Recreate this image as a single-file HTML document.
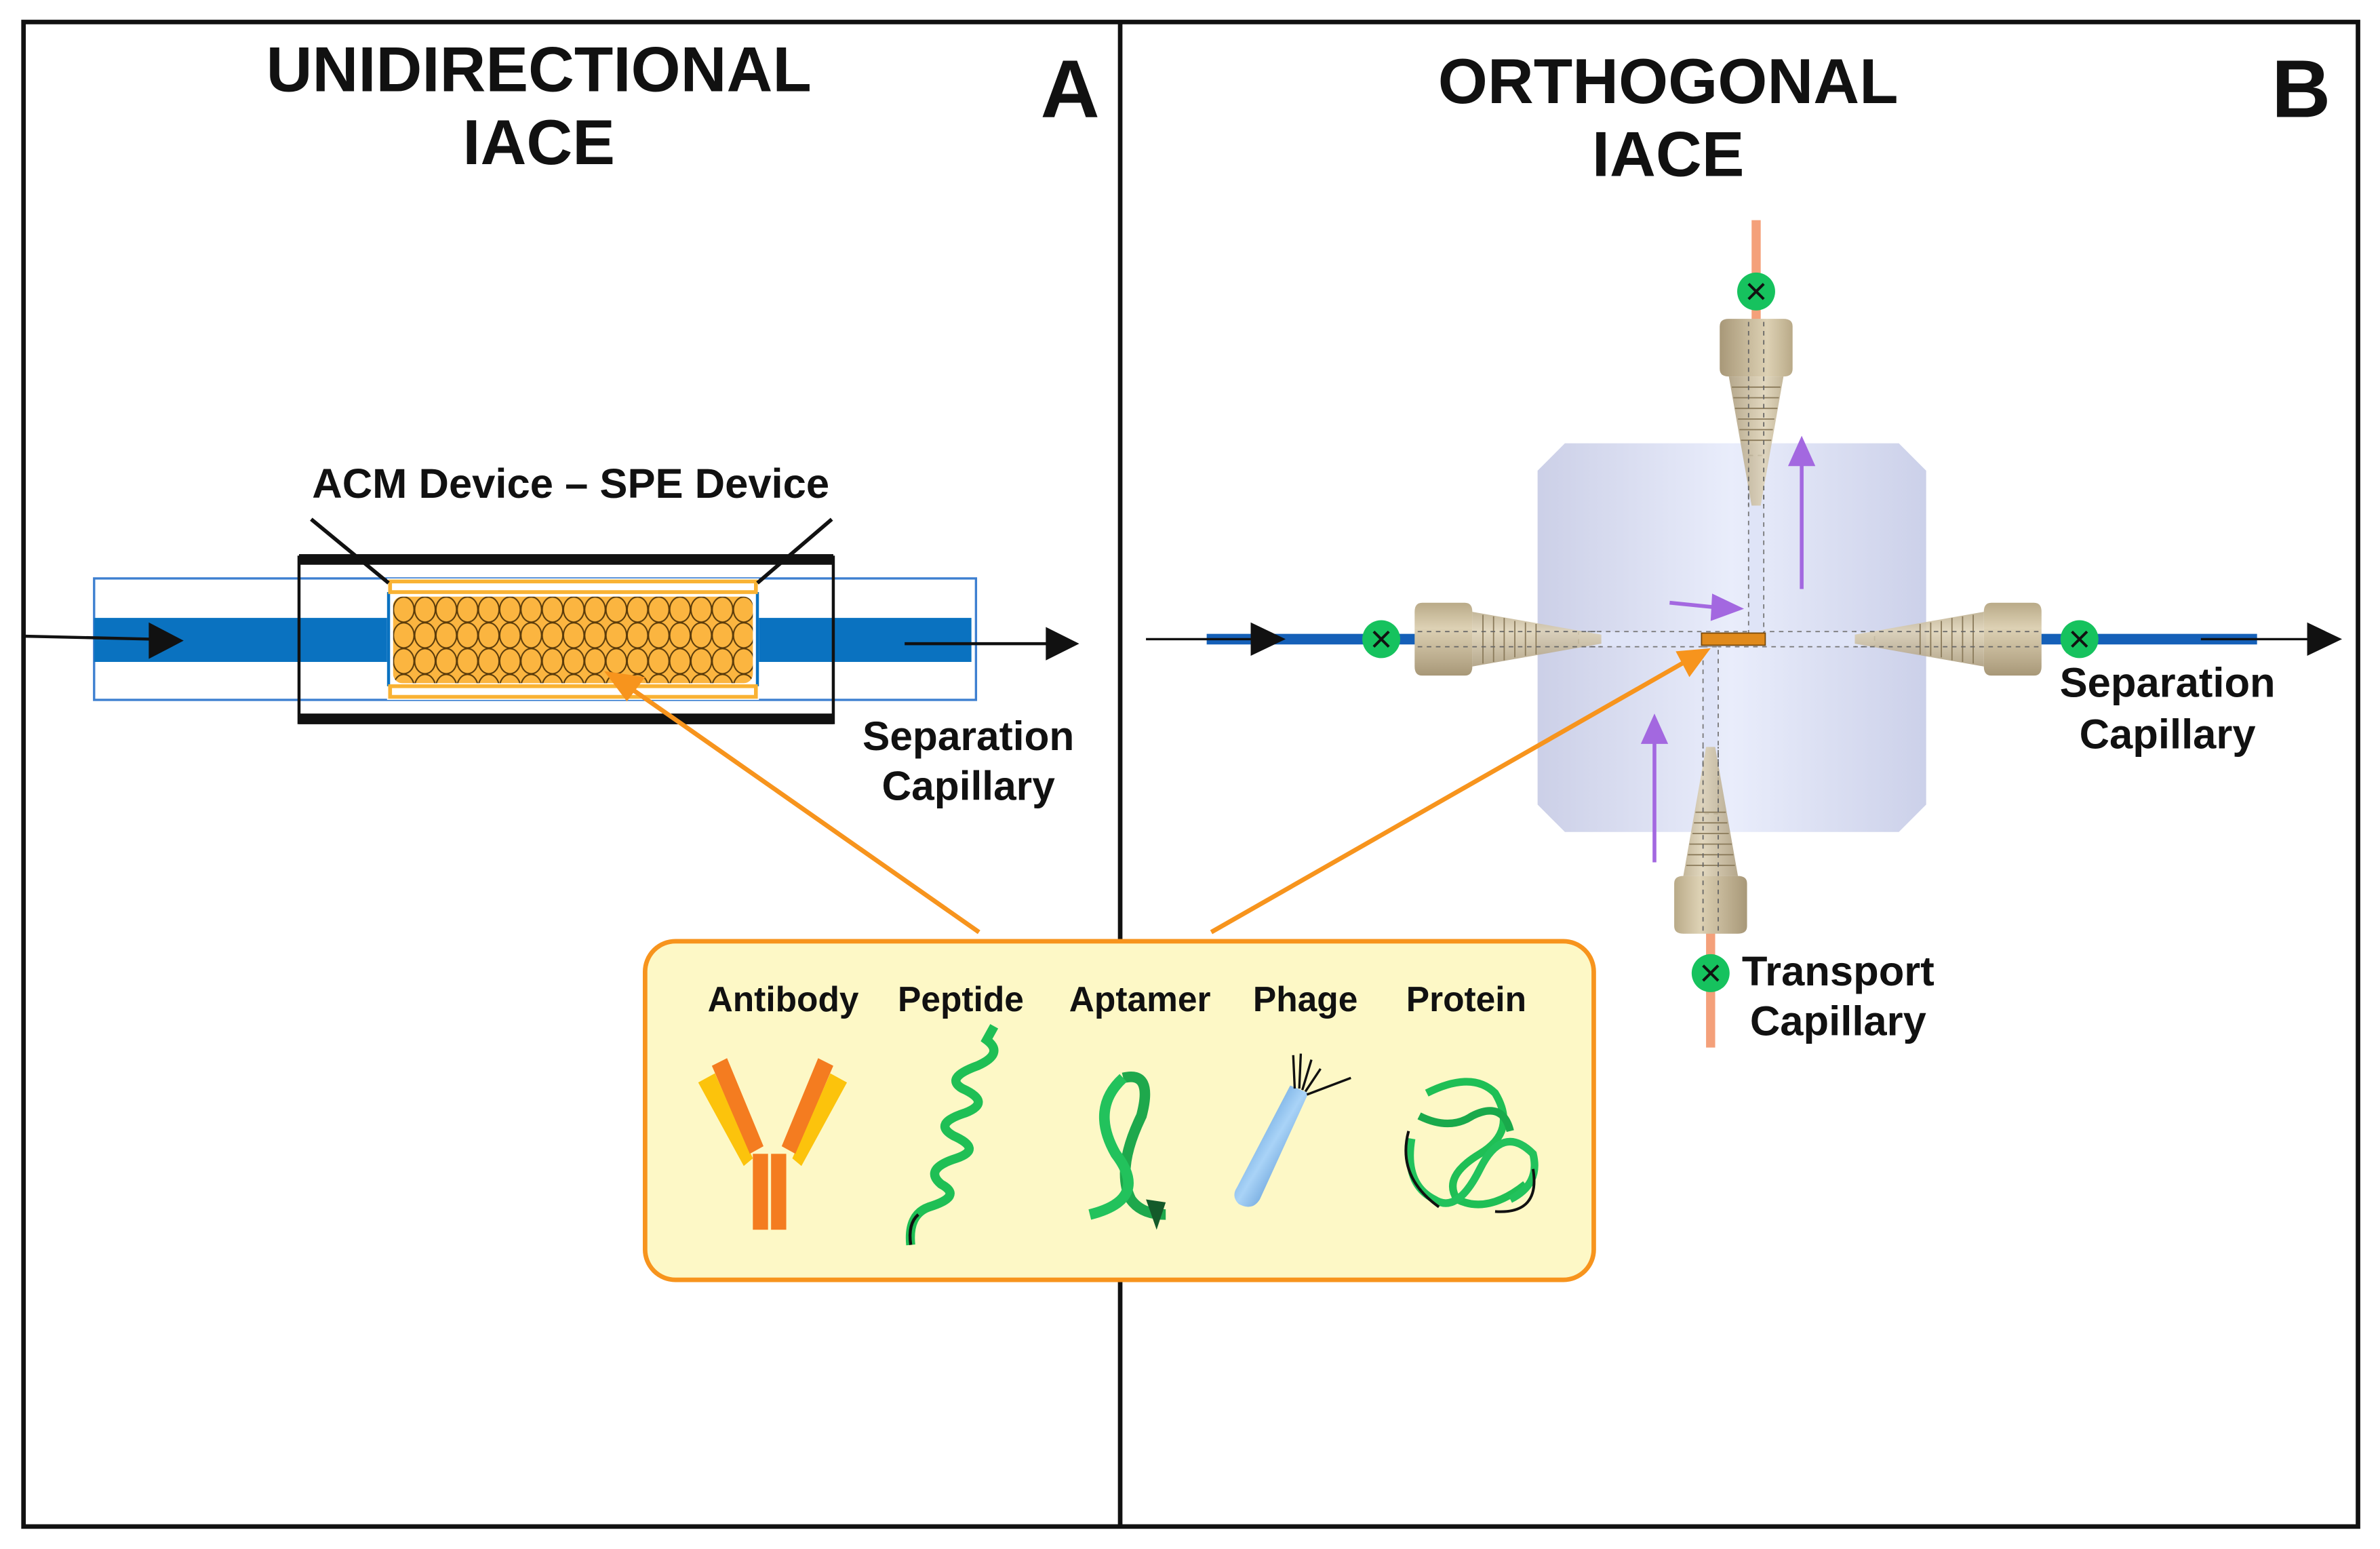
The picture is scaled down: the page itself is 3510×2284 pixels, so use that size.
<!DOCTYPE html>
<html><head><meta charset="utf-8"><style>html,body{margin:0;padding:0;background:#fff}svg{display:block}text{font-family:"Liberation Sans",Arial,sans-serif;font-weight:bold;fill:#111}</style></head>
<body>
<svg width="3510" height="2284" viewBox="0 0 1568 1020.3" preserveAspectRatio="none" xmlns="http://www.w3.org/2000/svg">
<defs>
<pattern id="beads" x="259" y="393" width="14" height="17" patternUnits="userSpaceOnUse">
<rect width="14" height="17" fill="#f5a52a"/>
<ellipse cx="0" cy="0" rx="6.8" ry="8.3" fill="#fbb540" stroke="#5a3b0a" stroke-width="0.9"/>
<ellipse cx="14" cy="0" rx="6.8" ry="8.3" fill="#fbb540" stroke="#5a3b0a" stroke-width="0.9"/>
<ellipse cx="0" cy="17" rx="6.8" ry="8.3" fill="#fbb540" stroke="#5a3b0a" stroke-width="0.9"/>
<ellipse cx="14" cy="17" rx="6.8" ry="8.3" fill="#fbb540" stroke="#5a3b0a" stroke-width="0.9"/>
<ellipse cx="7" cy="8.5" rx="6.8" ry="8.3" fill="#fbb540" stroke="#5a3b0a" stroke-width="0.9"/>
</pattern>
<linearGradient id="blk" x1="0" x2="1" y1="0" y2="0">
<stop offset="0" stop-color="#c9cde6"/><stop offset="0.5" stop-color="#e8ecfb"/><stop offset="1" stop-color="#c9cee8"/></linearGradient>
<linearGradient id="nut" x1="0" x2="0" y1="0" y2="1">
<stop offset="0" stop-color="#b9aa88"/><stop offset="0.35" stop-color="#ddd1b4"/><stop offset="1" stop-color="#a89878"/></linearGradient>
<linearGradient id="phg" x1="0" x2="1" y1="0" y2="1">
<stop offset="0" stop-color="#1f6fc0"/><stop offset="0.5" stop-color="#a9d3f7"/><stop offset="1" stop-color="#1a64b5"/></linearGradient>
<g id="fit">
<path d="M0,-24 h28 q5,0 5,6 v36 q0,6 -5,6 h-28 q-5,0 -5,-6 v-36 q0,-6 5,-6z" fill="url(#nut)"/>
<path d="M33,-18 L118,-3 L118,3 L33,18 z" fill="url(#nut)" opacity="0.85"/>
<g stroke="#8a7a5a" stroke-width="0.8"><line x1="40" y1="-16" x2="40" y2="16"/><line x1="47" y1="-15" x2="47" y2="15"/><line x1="54" y1="-14" x2="54" y2="14"/><line x1="61" y1="-12" x2="61" y2="12"/><line x1="68" y1="-11" x2="68" y2="11"/><line x1="75" y1="-10" x2="75" y2="10"/></g>
<line x1="-3" y1="-5" x2="118" y2="-5" stroke="#666" stroke-width="0.8" stroke-dasharray="3,3"/>
<line x1="-3" y1="5" x2="118" y2="5" stroke="#666" stroke-width="0.8" stroke-dasharray="3,3"/>
</g>
<g id="gx"><circle r="12.5" fill="#16c25e"/><path d="M-5,-5 L5,5 M5,-5 L-5,5" stroke="#111" stroke-width="1.8"/></g>
</defs>

<rect x="15.5" y="14.5" width="1538" height="991" fill="none" stroke="#111" stroke-width="3"/>
<line x1="738" y1="14" x2="738" y2="1005" stroke="#111" stroke-width="3"/>

<text x="355" y="60" font-size="42" text-anchor="middle">UNIDIRECTIONAL</text>
<text x="355" y="108" font-size="42" text-anchor="middle">IACE</text>
<text x="705" y="77" font-size="54" text-anchor="middle">A</text>
<text x="1099" y="68" font-size="42" text-anchor="middle">ORTHOGONAL</text>
<text x="1099" y="116" font-size="42" text-anchor="middle">IACE</text>
<text x="1516" y="77" font-size="54" text-anchor="middle">B</text>

<rect x="62" y="381" width="581" height="80" fill="#fff" stroke="#3d7fd0" stroke-width="1.5"/>
<rect x="62" y="407" width="578" height="29" fill="#0a72c0"/>
<rect x="255" y="381" width="245" height="80" fill="#fff"/>
<line x1="256" y1="390" x2="256" y2="452" stroke="#0a72c0" stroke-width="2"/>
<line x1="499" y1="390" x2="499" y2="452" stroke="#0a72c0" stroke-width="2"/>
<rect x="257" y="383" width="241" height="7" fill="none" stroke="#f9b233" stroke-width="2.5"/>
<rect x="257" y="452" width="241" height="7" fill="none" stroke="#f9b233" stroke-width="2.5"/>
<rect x="259" y="393" width="237" height="57" rx="6" fill="url(#beads)"/>
<rect x="197" y="367" width="352" height="109" fill="none" stroke="#111" stroke-width="2"/>
<rect x="197" y="365" width="352" height="7" fill="#111"/>
<rect x="197" y="470" width="352" height="7" fill="#111"/>
<line x1="205" y1="342" x2="256" y2="384" stroke="#111" stroke-width="2.5"/>
<line x1="548" y1="342" x2="499" y2="384" stroke="#111" stroke-width="2.5"/>
<text x="376" y="328" font-size="27.5" text-anchor="middle">ACM Device – SPE Device</text>
<line x1="15" y1="419" x2="100" y2="421" stroke="#111" stroke-width="2"/>
<path d="M98,410 L121,422 L98,434 z" fill="#111"/>
<line x1="596" y1="424" x2="692" y2="424" stroke="#111" stroke-width="2"/>
<path d="M689,413 L711,424 L689,435 z" fill="#111"/>
<text x="638" y="494" font-size="27" text-anchor="middle">Separation</text>
<text x="638" y="527" font-size="27" text-anchor="middle">Capillary</text>

<line x1="1157" y1="145" x2="1157" y2="230" stroke="#f4a07a" stroke-width="6"/>
<line x1="1127" y1="600" x2="1127" y2="690" stroke="#f4a07a" stroke-width="6"/>
<line x1="795" y1="421" x2="935" y2="421" stroke="#1560b8" stroke-width="7"/>
<line x1="1340" y1="421" x2="1487" y2="421" stroke="#1560b8" stroke-width="7"/>
<line x1="755" y1="421" x2="830" y2="421" stroke="#111" stroke-width="1.5"/>
<path d="M824,410 L847,421 L824,432 z" fill="#111"/>
<line x1="1450" y1="421" x2="1525" y2="421" stroke="#111" stroke-width="1.5"/>
<path d="M1520,410 L1543,421 L1520,432 z" fill="#111"/>
<path d="M1031,292 H1251 L1269,310 V530 L1251,548 H1031 L1013,530 V310 z" fill="url(#blk)" opacity="0.95"/>
<rect x="1040" y="416" width="195" height="10" fill="#dfe4f7" stroke="#777" stroke-width="0.8" stroke-dasharray="3,3"/>
<rect x="1152" y="300" width="10" height="118" fill="#dfe4f7" stroke="#777" stroke-width="0.8" stroke-dasharray="3,3"/>
<rect x="1122" y="426" width="10" height="110" fill="#dfe4f7" stroke="#777" stroke-width="0.8" stroke-dasharray="3,3"/>
<use href="#fit" transform="translate(937,421)"/>
<use href="#fit" transform="translate(1340,421) scale(-1,1)"/>
<use href="#fit" transform="translate(1157,215) rotate(90)"/>
<use href="#fit" transform="translate(1127,610) rotate(-90)"/>
<rect x="1121" y="417" width="42" height="8" fill="#e08a1c" stroke="#7a4a0a" stroke-width="0.8"/>
<g stroke="#a368e0" stroke-width="2.5" fill="#a368e0">
<line x1="1187" y1="388" x2="1187" y2="305"/><path d="M1178,307 L1187,287 L1196,307 z" stroke="none"/>
<line x1="1090" y1="568" x2="1090" y2="488"/><path d="M1081,490 L1090,470 L1099,490 z" stroke="none"/>
<line x1="1100" y1="397" x2="1130" y2="400"/><path d="M1128,391 L1149,401 L1127,409 z" stroke="none"/>
</g>
<use href="#gx" transform="translate(1157,192)"/>
<use href="#gx" transform="translate(910,421)"/>
<use href="#gx" transform="translate(1370,421)"/>
<use href="#gx" transform="translate(1127,641)"/>
<text x="1428" y="459" font-size="27.5" text-anchor="middle">Separation</text>
<text x="1428" y="493" font-size="27.5" text-anchor="middle">Capillary</text>
<text x="1211" y="649" font-size="27.5" text-anchor="middle">Transport</text>
<text x="1211" y="682" font-size="27.5" text-anchor="middle">Capillary</text>

<line x1="645" y1="614" x2="415" y2="453" stroke="#f7941d" stroke-width="3"/>
<path d="M398,442 L425,446 L413,462 z" fill="#f7941d"/>
<line x1="798" y1="614" x2="1110" y2="436" stroke="#f7941d" stroke-width="3"/>
<path d="M1127,427 L1113,446 L1104,429 z" fill="#f7941d"/>

<rect x="425" y="620" width="625" height="223" rx="20" fill="#fdf8c6" stroke="#f7941d" stroke-width="3"/>
<text x="516" y="666" font-size="23" text-anchor="middle">Antibody</text>
<text x="633" y="666" font-size="23" text-anchor="middle">Peptide</text>
<text x="751" y="666" font-size="23" text-anchor="middle">Aptamer</text>
<text x="860" y="666" font-size="23" text-anchor="middle">Phage</text>
<text x="966" y="666" font-size="23" text-anchor="middle">Protein</text>
<g>
<rect x="496" y="760" width="10" height="50" fill="#f47c20"/><rect x="508" y="760" width="10" height="50" fill="#f47c20"/>
<path d="M460,713 L471,707 L496,763 L490,768 z" fill="#fcc30c"/>
<path d="M469,702 L479,697 L503,755 L494,760 z" fill="#f47c20"/>
<path d="M558,713 L547,707 L522,763 L528,768 z" fill="#fcc30c"/>
<path d="M549,702 L539,697 L515,755 L524,760 z" fill="#f47c20"/>
</g>
<path d="M600,820 Q598,800 612,795 Q635,788 620,780 Q608,770 630,763 Q648,757 628,748 Q614,740 636,733 Q654,726 634,717 Q622,710 644,702 Q662,694 650,685 L655,676" fill="none" stroke="#1fbf55" stroke-width="6"/>
<path d="M600,820 Q598,806 605,800" fill="none" stroke="#111" stroke-width="2"/>
<path d="M740,710 Q760,705 752,735 Q735,770 745,790 Q752,800 768,800" fill="none" stroke="#1ea84c" stroke-width="7"/>
<path d="M740,710 Q718,730 735,760 Q758,790 718,800" fill="none" stroke="#22c25c" stroke-width="7"/>
<path d="M755,790 L762,810 L768,792 z" fill="#145a2a"/>
<path d="M850,715 L862,720 L830,790 Q825,798 816,793 Q811,788 815,782 z" fill="url(#phg)"/>
<g stroke="#111" stroke-width="1.5"><line x1="853" y1="717" x2="852" y2="695"/><line x1="856" y1="717" x2="857" y2="694"/><line x1="858" y1="718" x2="864" y2="698"/><line x1="860" y1="719" x2="870" y2="704"/><line x1="861" y1="721" x2="890" y2="710"/></g>
<g fill="none" stroke-width="5">
<path d="M940,720 Q970,705 985,720 Q1000,745 975,760 Q950,775 960,790 Q980,800 1005,780" stroke="#1fbf55"/>
<path d="M930,750 Q925,780 945,790 Q960,800 975,770 Q990,740 1010,760 Q1015,780 995,790" stroke="#22c25c"/>
<path d="M935,735 Q955,745 970,735 Q990,725 995,745" stroke="#1aa94b"/>
<path d="M928,745 Q920,775 948,795 M1010,770 Q1015,800 985,798" stroke="#111" stroke-width="1.8"/>
</g>
</svg>
</body></html>
